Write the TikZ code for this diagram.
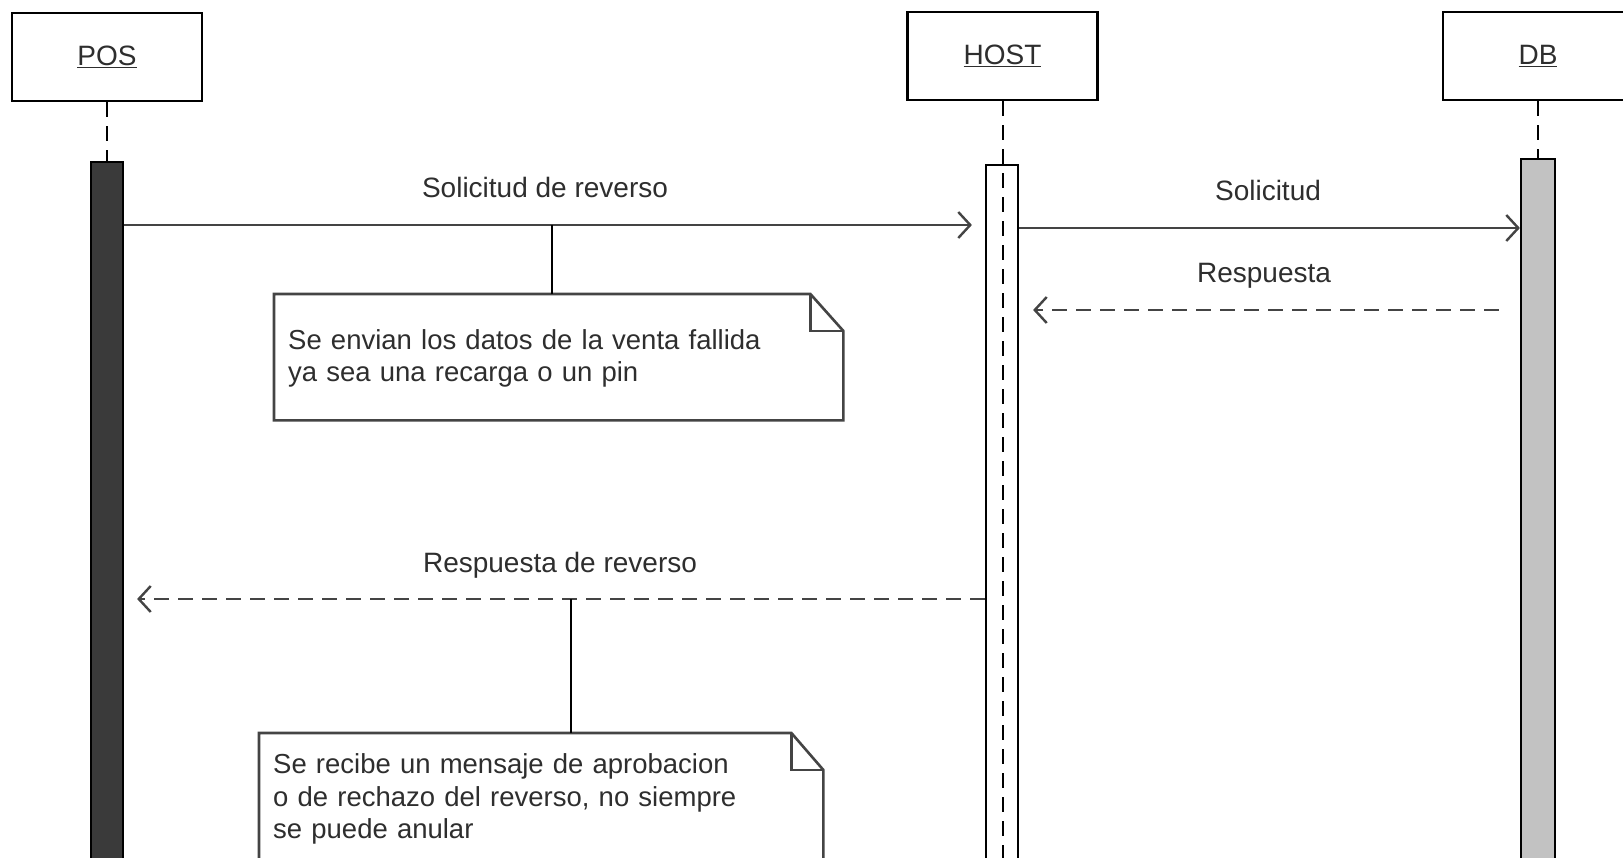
\documentclass[tikz,border=0pt]{standalone}
\usepackage{fontspec}
\setmainfont{Liberation Sans}
\usetikzlibrary{arrows.meta}
\definecolor{txt}{HTML}{2E2E2E}
\definecolor{ln}{HTML}{444444}
\definecolor{posfill}{HTML}{3A3A3A}
\definecolor{dbfill}{HTML}{C2C2C2}
\begin{document}
\begin{tikzpicture}[x=1pt,y=-1pt,
  font=\fontsize{28}{33}\selectfont,
  head/.style={draw=black, line width=2.5pt, fill=white, minimum width=190pt, minimum height=88pt, inner sep=0pt, text=txt},
  life/.style={draw=black, line width=2pt, dash pattern=on 15pt off 9pt},
  actbar/.style={draw=black, line width=2.2pt, minimum width=32pt, minimum height=760pt, anchor=north, inner sep=0pt},
  msg/.style={draw=ln, line width=2.4pt, -{Straight Barb[length=12pt,width=26pt]}},
  reply/.style={msg, dash pattern=on 15pt off 9pt},
  lbl/.style={text=txt, inner sep=0pt},
  notebox/.style={anchor=north west, inner xsep=14pt, inner ysep=0pt, align=left, text=txt, font=\fontsize{27.5}{32.5}\selectfont},
  noteline/.style={draw=ln, line width=2.6pt, line join=miter, fill=white},
  link/.style={draw=black, line width=2.2pt}
]
\useasboundingbox (0,0) rectangle (1623,858);
\clip (0,0) rectangle (1623,858);
\fill[white] (0,0) rectangle (1623,858);

% heads
\node[head] (pos) at (107,57) {\underline{POS}};
\node[head] (host) at (1002.5,56) {\underline{HOST}};
\node[head] (db) at (1538,56) {\underline{DB}};

% lifelines
\draw[life] (pos.south) -- (pos.south |- 0,900);
\draw[life] (db.south) -- (db.south |- 0,900);

% activation bars
\node[actbar, fill=posfill] (posbar) at (107,161) {};
\node[actbar, fill=white] (hostbar) at (1002,164) {};
\node[actbar, fill=dbfill, minimum width=34pt] (dbbar) at (1538,158) {};
\draw[life] (host.south) -- (host.south |- 0,900);

% messages
\draw[msg, shorten >=13pt] (posbar.east |- 0,225) -- (hostbar.west |- 0,225);
\node[lbl] (l1) at (545,187) {Solicitud de reverso};

\draw[msg] (hostbar.east |- 0,228) -- (dbbar.west |- 0,228);
\node[lbl] (l2) at (1268,190) {Solicitud};

\draw[reply, shorten <=21pt, shorten >=14pt] (dbbar.west |- 0,310) -- (hostbar.east |- 0,310);
\node[lbl] (l3) at (1264,276) {Respuesta};

\draw[reply, shorten >=13pt] (hostbar.west |- 0,599) -- (posbar.east |- 0,599);
\node[lbl] (l4) at (560,565) {Respuesta de reverso};

% note 1
\node[notebox, minimum width=569pt, minimum height=126pt, text width=541pt] (note1) at (274,294) {};
\draw[noteline] (note1.north west) -- ([xshift=-33pt]note1.north east) -- ([yshift=-37pt]note1.north east) -- (note1.south east) -- (note1.south west) -- cycle;
\draw[noteline, fill=none] ([xshift=-33pt]note1.north east) -- ([xshift=-33pt,yshift=-37pt]note1.north east) -- ([yshift=-37pt]note1.north east);
\node[notebox, minimum width=569pt, minimum height=126pt, text width=541pt] (note1t) at (274,295) {Se envian los datos de la venta fallida\\ya sea una recarga o un pin};
\coordinate (n1c) at (552,225);
\draw[link] (n1c) -- (n1c |- note1.north);

% note 2
\node[notebox, minimum width=564pt, minimum height=134pt, text width=536pt] (note2) at (259,733) {};
\draw[noteline] (note2.north west) -- ([xshift=-32pt]note2.north east) -- ([yshift=-37pt]note2.north east) -- (note2.south east) -- (note2.south west) -- cycle;
\draw[noteline, fill=none] ([xshift=-32pt]note2.north east) -- ([xshift=-32pt,yshift=-37pt]note2.north east) -- ([yshift=-37pt]note2.north east);
\node[notebox, minimum width=564pt, minimum height=134pt, text width=536pt] (note2t) at (259,732) {Se recibe un mensaje de aprobacion\\o de rechazo del reverso, no siempre\\se puede anular};
\coordinate (n2c) at (571,599);
\draw[link] (n2c) -- (n2c |- note2.north);
\end{tikzpicture}
\end{document}
